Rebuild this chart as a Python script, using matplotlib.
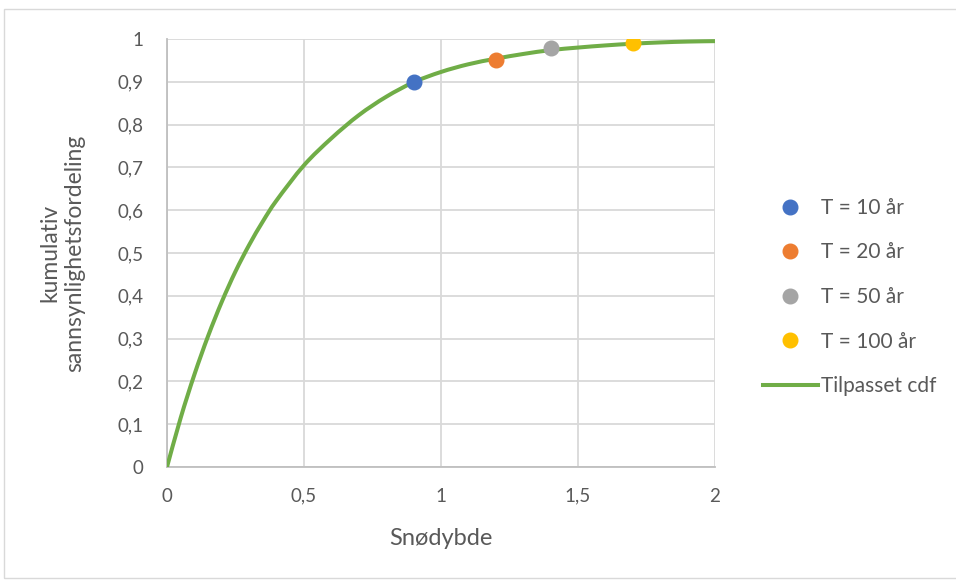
import matplotlib.pyplot as plt
from matplotlib.patches import Rectangle, PathPatch
from matplotlib.path import Path
from matplotlib.lines import Line2D

plt.rcParams['font.family'] = ['Lato', 'DejaVu Sans']

# fitted cdf
cdf_x = [0, 0.05, 0.1, 0.15, 0.2, 0.25, 0.3, 0.35, 0.4, 0.5, 0.6, 0.7, 0.8, 0.9,
         1.0, 1.1, 1.2, 1.3, 1.4, 1.5, 1.6, 1.7, 1.8, 1.9, 2.0]
cdf_y = [0, 0.115, 0.216, 0.306, 0.386, 0.457, 0.519, 0.574, 0.623, 0.705,
         0.768, 0.822, 0.865, 0.899, 0.923, 0.941, 0.954, 0.965, 0.974, 0.980,
         0.985, 0.989, 0.992, 0.994, 0.995]

# return period points
labels = ["T = 10 år", "T = 20 år", "T = 50 år", "T = 100 år"]
pt_x = [0.9, 1.2, 1.4, 1.7]
pt_y = [0.9, 0.95, 0.98, 0.99]
colors = ["#4472C4", "#ED7D31", "#A5A5A5", "#FFC000"]


def smooth_path(xs, ys):
    # Excel-like smoothed line: catmull-rom segments as bezier curves
    pts = list(zip(xs, ys))
    verts = [pts[0]]
    codes = [Path.MOVETO]
    for i in range(len(pts) - 1):
        p0 = pts[i - 1] if i > 0 else pts[i]
        p1 = pts[i]
        p2 = pts[i + 1]
        p3 = pts[i + 2] if i + 2 < len(pts) else pts[i + 1]
        c1 = (p1[0] + (p2[0] - p0[0]) / 6, p1[1] + (p2[1] - p0[1]) / 6)
        c2 = (p2[0] - (p3[0] - p1[0]) / 6, p2[1] - (p3[1] - p1[1]) / 6)
        verts += [c1, c2, p2]
        codes += [Path.CURVE4] * 3
    return Path(verts, codes)


fig = plt.figure(figsize=(9.56, 5.81), dpi=100)
fig.patches.append(Rectangle((4 / 956, 3 / 581), 960 / 956, 569 / 581,
                             transform=fig.transFigure, fill=False,
                             edgecolor="#D9D9D9", linewidth=1))
ax = fig.add_axes([167 / 956, 114 / 581, 548 / 956, 428 / 581])

ax.add_patch(PathPatch(smooth_path(cdf_x, cdf_y), fill=False,
                       edgecolor="#70AD47", linewidth=2.9, zorder=3,
                       capstyle="butt"))
for x, y, c in zip(pt_x, pt_y, colors):
    ax.plot(x, y, "o", color=c, markersize=10.5, zorder=4)

ax.set_xlim(0, 2)
ax.set_ylim(0, 1)
ax.set_xticks([0, 0.5, 1, 1.5, 2])
ax.set_xticklabels(["0", "0,5", "1", "1,5", "2"])
yt = [i / 10 for i in range(11)]
ax.set_yticks(yt)
ax.set_yticklabels(["0"] + [f"0,{i}" for i in range(1, 10)] + ["1"])
ax.tick_params(length=0, labelsize=13.5, colors="#595959")
ax.tick_params(axis="y", pad=17)
ax.tick_params(axis="x", pad=15)
ax.grid(True, color="#D9D9D9", linewidth=1.3)
ax.set_axisbelow(True)
for s in ["top", "right"]:
    ax.spines[s].set_visible(False)
for s in ["left", "bottom"]:
    ax.spines[s].set_color("#BFBFBF")
    ax.spines[s].set_linewidth(1.3)

ax.set_xlabel("Snødybde", fontsize=17, color="#595959", labelpad=17)
ax.set_ylabel("kumulativ\nsannsynlighetsfordeling", fontsize=16.5,
              color="#595959", labelpad=23, linespacing=1.25)

handles = [Line2D([], [], marker="o", linestyle="", color=c, markersize=10.5)
           for c in colors]
handles.append(Line2D([], [], color="#70AD47", linewidth=2.9))
leg = fig.legend(handles, labels + ["Tilpasset cdf"], loc="center left",
                 bbox_to_anchor=(744 / 956, 1 - 297 / 581), frameon=False,
                 fontsize=15, labelspacing=1.18, handlelength=2.65,
                 handletextpad=0.15, labelcolor="#595959")

fig.savefig("out.png", dpi=100)
